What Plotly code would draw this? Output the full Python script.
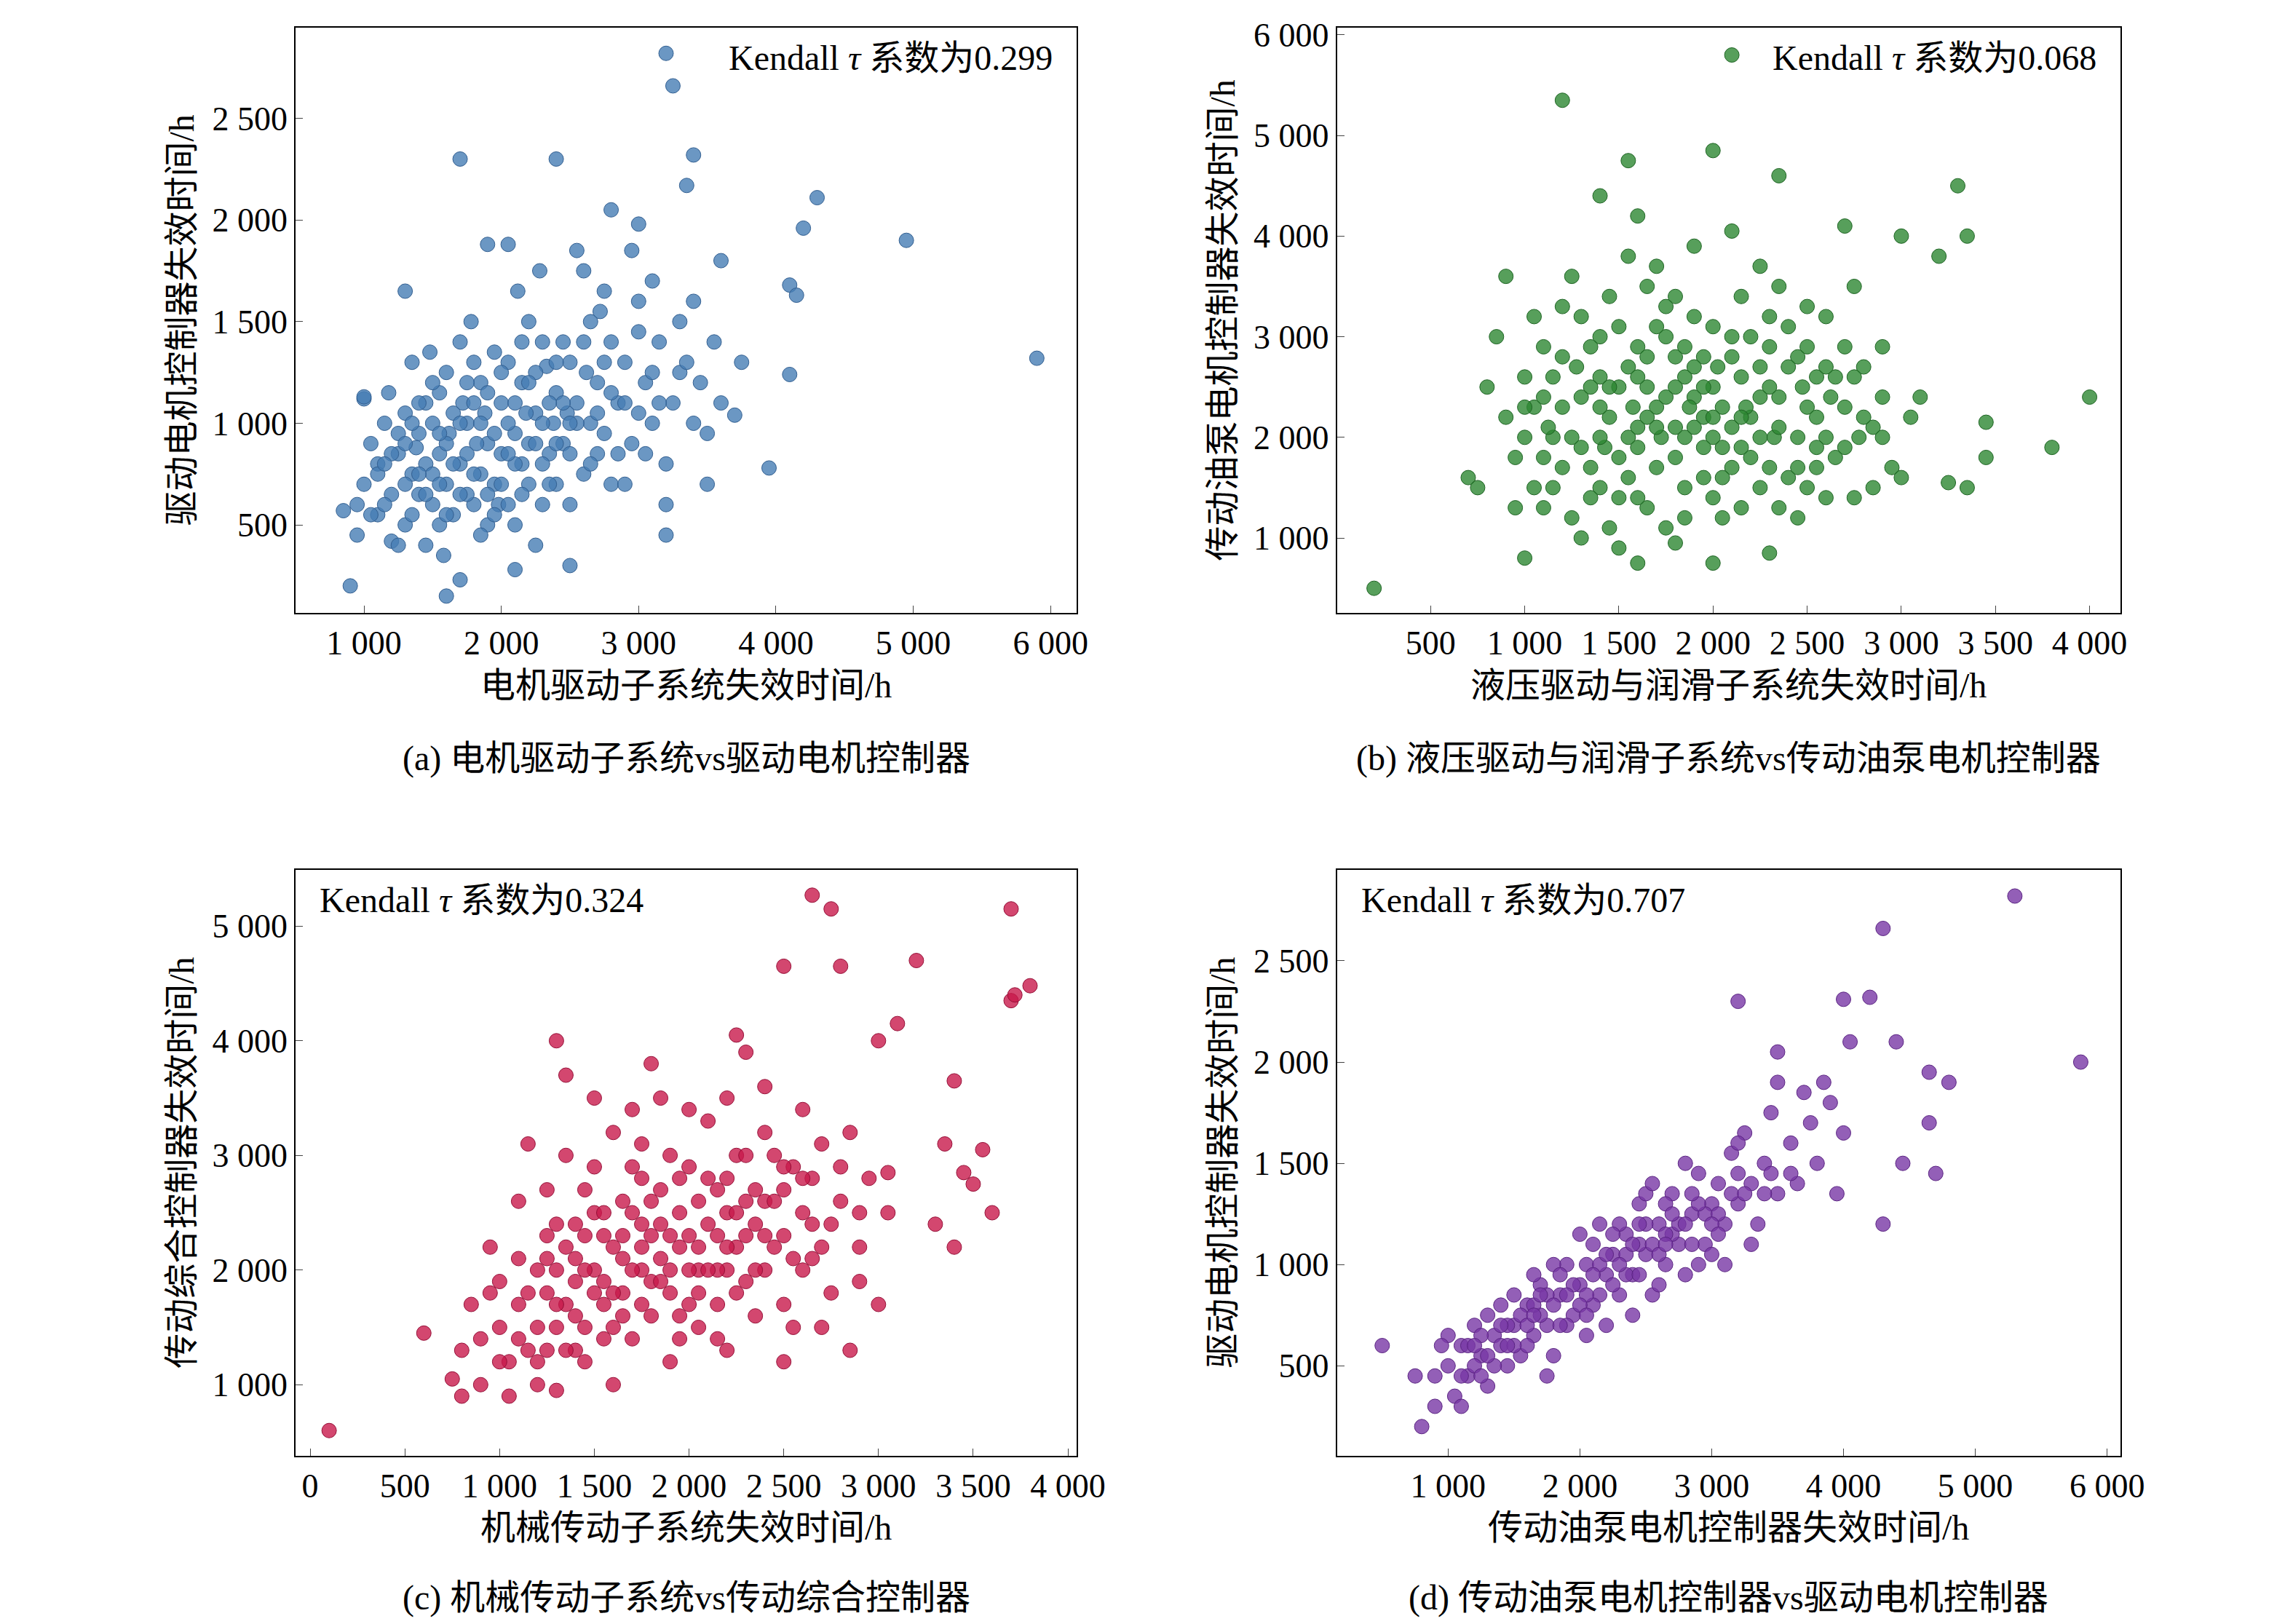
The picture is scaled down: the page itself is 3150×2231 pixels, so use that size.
import plotly.graph_objects as go

a_pts = [(950,450),(1000,700),(1050,900),(1100,550),(1150,1000),(1200,650),(1000,1120),(1100,800),(1200,420),(950,600),(1180,1150),(1250,850),
(1300,500),(1350,750),(1400,950),(1450,1100),(1500,600),(1550,850),(1600,1250),(1350,1300),(1450,400),(1500,1000),(1600,700),(1400,650),(1550,500),(1300,1050),(1480,1350),(1620,950),(1580,350),(1380,880),
(1700,800),(1750,1000),(1800,600),(1850,1200),(1900,900),(1950,700),(2000,1100),(1700,1400),(1800,1300),(1900,500),(2000,850),(1750,650),(1850,450),(1950,1350),(1720,1100),(1880,1050),(1980,600),(1820,900),(1650,550),(1780,1500),(1900,1880),(2050,1880),
(2100,950),(2150,1200),(2200,700),(2250,1050),(2300,1400),(2350,850),(2400,1150),(2100,500),(2200,1500),(2300,600),(2050,1300),(2150,800),(2250,400),(2380,1000),(2120,1650),(2280,1750),(2400,700),(2180,1050),(2330,1280),
(2450,900),(2500,1300),(2550,1100),(2600,750),(2650,1500),(2700,1200),(2750,950),(2800,1400),(2500,600),(2600,1750),(2700,850),(2550,1850),(2750,1650),(2480,1050),(2650,1000),(2800,700),(2620,1250),(2720,1550),
(2850,1100),(2900,1300),(2950,900),(3000,1600),(3050,1200),(3100,1000),(3150,1400),(3200,800),(3300,1250),(2900,700),(3000,1450),(3100,1700),(3250,1100),(3200,600),(3300,1500),(2950,1850),(3050,850),
(3350,1300),(3400,1000),(3450,1200),(3500,950),(3550,1400),(3600,1100),(3400,1600),(3500,700),
(3200,2820),(3250,2660),(1700,2300),(2400,2300),(3400,2320),(3350,2170),(4300,2110),(4200,1960),(4950,1900),(5900,1320),(4100,1680),(4150,1630),(4100,1240),(3950,780),(3750,1300),(3700,1040),(3600,1800),(2800,2050),(3000,1980),(1300,1650),(1000,1130),(850,570),(900,200),(1600,150),(1700,230),(3200,450),(2100,280),(2500,300)]
a_extra = [(1100,750),(1150,600),(1250,950),(1300,700),(1350,550),(1400,1100),(1450,800),(1500,750),(1550,1150),(1600,900),(1650,1050),(1700,650),(1750,850),(1800,1100),(1850,750),(1900,1150),(1950,950),(2000,700),(2050,1000),(2100,800),(2150,1400),(2200,900),(2250,1250),(2300,1000),(2350,700),(2400,1300),(2450,1100),(2500,850),(2550,1000),(2600,1400),(2650,800),(2700,1050),(2750,1300),(2800,1150),(2850,850),(2900,1100),(1200,850),(1300,900),(1400,750),(1500,1200),(1600,550),(1700,1000),(1800,750),(1900,650),(2000,1250),(2100,1100),(2200,1200),(2300,800),(2400,900),(2500,1000),(1250,400),(1350,1000),(1450,650),(1550,950),(1650,800),(1750,1200),(1850,1000),(1950,550),(2050,850),(2150,650),(2250,900),(2350,1100),(1050,550),(1150,800),(1550,700),(2050,600),(2450,1400),(3000,1050),(3150,1100),(3100,1250)]

b_pts = [(900,2200),(950,1800),(1000,2600),(1050,1500),(1100,2900),(1150,2000),(1200,3300),(1250,1200),(1300,2400),(1350,1700),(1400,3000),(1450,2200),(1500,1400),(1550,2700),(1600,1900),(1650,3500),(1700,2300),(1750,1100),(1800,2800),(1850,2000),(1900,3200),(1950,1600),(2000,2500),(2050,1900),(2100,3000),(2150,1300),(2200,2200),(2250,2700),(2300,1700),(2350,2400),(2400,3100),(2450,2000),(2500,1500),(2550,2600),(2600,3200),(2650,1800),(2700,2300),(2750,1400),(2800,2700),(2850,2100),(2900,2900),(2950,1700),(3050,2200),
(1000,2000),(1100,1300),(1200,2300),(1300,1900),(1400,1500),(1500,2500),(1600,2900),(1700,1700),(1800,2100),(1900,2400),(2000,1400),(2100,2100),(2200,1800),(2300,2900),(2400,1600),(2500,2300),(2600,2000),(2700,2900),(1150,2600),(1350,2900),(1450,1100),(1550,2000),(1650,2500),(1750,3000),(1850,1500),(1950,2800),(2050,2300),(2150,3400),(2250,2000),(2350,1300),(2450,2800),(2550,1900),(1250,3600),(1700,3700),(1800,3400),(2100,4050),(2250,3700),(1600,4200),(1900,3900),(1050,3200),(1300,1000),(1500,900),(1800,950),(2450,1200),(2650,2600),(2850,1500),(1400,2600),(1600,2100),(2000,2000),(1750,2400),(1950,2200),(1850,2600),(1650,1300),(2500,3300),(2750,3500),(2900,2400),(950,1300),(1100,1800),(2150,2600),(2350,3500),(1450,3400),(1550,3800),(2050,1200),(2600,1400),
(200,500),(1200,5350),(2100,5800),(1550,4750),(2000,4850),(2350,4600),(3300,4500),(3350,4000),(3000,4000),(3450,2150),(3450,1800),(3800,1900),(4000,2400),(3250,1550),(3350,1500),(700,1600),(750,1500),(800,2500),(900,3600),(1000,800),(1600,750),(2000,750),(2300,850),(3000,1600),(3100,2400),(3200,3800),(2700,4100),(1400,4400),(850,3000)]
b_extra = [(1050,2300),(1200,1700),(1350,2500),(1500,1800),(1650,2800),(1800,1800),(1950,2500),(2100,1700),(2250,2400),(2400,2700),(2550,2200),(2700,1900),(1125,2100),(1275,2700),(1425,1900),(1575,2300),(1725,2000),(1875,2300),(2025,2700),(2175,2300),(2325,2000),(2475,2500),(2625,2400),(2775,2000),(1100,2400),(1250,2000),(1400,2300),(1550,1600),(1700,2100),(1850,2900),(2000,2200),(2150,1900),(2300,2500),(2450,1700),(2600,2700),(2750,2600),(1300,3200),(1500,3100),(1700,3100),(1900,2700),(2100,2800),(2300,3200),(2500,2900),(1350,1400),(1600,1400),(1850,1200),(2050,1600),(2250,1500),(1200,2800),(1450,2500),(1650,2200),(1800,2500),(1950,1900),(2150,2200),(2350,2100),(2550,1700),(1000,2300),(1150,1500),(2800,2200),(2900,2000),(1750,3300),(2000,3100),(1600,2600),(1900,2100),(2200,3000),(1400,2000)]

c_pts = [(800,1300),(850,1700),(900,1000),(950,2200),(1000,1500),(1050,1200),(1100,2600),(1150,1800),(1200,1000),(1250,2300),(1300,1500),(1350,3000),(1400,1900),(1450,1200),(1500,2500),(1550,1700),(1600,3200),(1650,2100),(1700,1400),(1750,2800),(1800,1900),(1850,3500),(1900,2300),(1950,1600),(2000,2900),(2050,2000),(2100,3300),(2150,1400),(2200,2500),(2250,3000),(2300,1900),(2350,2700),(2400,3600),(2450,2200),(2500,1700),(2550,2900),(2600,3400),(2650,2400),(2700,3100),(2750,1800),(2800,2600),(2850,3200),(2900,2200),(2950,2800),(3000,1700),
(1000,1900),(1100,1400),(1200,2000),(1300,2400),(1400,1600),(1500,2000),(1600,1500),(1700,2500),(1800,2300),(1900,2000),(2000,1700),(2100,2400),(2200,2000),(2300,2300),(2400,2600),(2500,2300),(2600,2000),(1250,1800),(1350,2200),(1450,2700),(1550,2300),(1650,1800),(1750,2200),(1850,2700),(1950,2500),(2050,1500),(2150,2700),(2250,2200),(2350,1600),(2450,3000),(1150,3100),(1350,3700),(1500,3500),(1700,3400),(1800,3800),(2000,3400),(2200,3500),(2300,3900),(2400,3200),(900,1400),(1050,900),(1300,950),(1600,1000),(1900,1200),(2200,1300),(2500,1200),(2700,1500),(2900,1900),(1750,2000),(1850,2100),(1650,2300),(1550,1900),(1450,1500),(2050,2200),(2150,2000),(1250,1300),(2650,2800),(2750,2400),(2550,1500),(3050,2500),(2850,1300),(1400,2100),(1950,2200),
(100,600),(600,1450),(2650,5270),(2750,5150),(3700,5150),(2500,4650),(2800,4650),(3200,4700),(3800,4480),(3700,4350),(3720,4400),(3100,4150),(3000,4000),(3400,3650),(3350,3100),(3550,3050),(3600,2500),(3450,2850),(3400,2200),(3300,2400),(2250,4050),(1300,4000),(750,1050),(800,900),(3500,2750),(3050,2850)]
c_extra = [(1100,1700),(1200,1500),(1300,2000),(1400,2400),(1500,1800),(1600,2200),(1700,2000),(1800,2600),(1900,1800),(2000,2300),(2100,2000),(2200,2800),(2300,2600),(2400,2000),(2500,2700),(2600,2500),(2700,2200),(1150,1300),(1250,2100),(1350,1700),(1450,2000),(1550,2500),(1650,1600),(1750,2400),(1850,1900),(1950,2800),(2050,2600),(2150,2300),(2250,1800),(2350,2400),(2450,2600),(2550,2100),(1000,1200),(1200,1200),(1400,1300),(1600,1800),(1800,1600),(2000,2000),(2200,2200),(2400,2300),(1500,2900),(1700,2900),(1900,3000),(2100,2800),(2300,3000),(2500,2900),(1300,1700),(1450,2300),(1650,2600),(1850,2400),(2050,1800),(2250,2500),(2650,2100),(2800,2900),(2900,2500),(1350,1300),(1550,1400),(1750,1700),(1950,1400),(2150,1700),(950,1800),(1100,2100),(1250,2700),(1750,3100),(2350,2000),(2600,2800)]

d_pts = [(1000,500),(1050,350),(1100,600),(1150,450),(1200,700),(1250,550),(1300,400),(1350,650),(1400,800),(1450,500),(1500,700),(1000,650),(1100,300),(1200,500),(1300,750),(1400,600),(1500,850),(900,450),(950,600),
(1550,550),(1600,800),(1650,650),(1700,900),(1750,700),(1800,550),(1850,850),(1900,1000),(1950,750),(2000,900),(2050,650),(2100,1100),(2150,850),(2200,950),(1600,600),(1700,750),(1800,1000),(1900,700),(2000,1150),(2100,800),(2200,700),(1750,450),(2050,1000),(1650,950),(2150,1200),
(2250,1050),(2300,850),(2350,1150),(2400,950),(2450,1300),(2500,1050),(2550,850),(2600,1200),(2650,1000),(2700,1350),(2750,1100),(2800,950),(2850,1250),(2900,1450),(2950,1100),(3000,1300),(2300,1200),(2400,750),(2500,1350),(2600,900),(2700,1150),(2800,1500),(2900,1000),(2450,1100),(2650,1300),(3000,1050),(2350,950),(2550,1400),
(3050,1400),(3100,1200),(3150,1550),(3200,1300),(3250,1650),(3300,1400),(3350,1200),(3400,1500),(3450,1750),(3500,1350),(3600,1600),(3700,1850),(3800,1500),(3900,1800),(4000,1650),(3100,1000),(3300,1100),(3500,1900),(3650,1400),(3750,1700),(3850,1900),(3950,1350),(3200,1600),(3400,1350),
(500,600),(800,200),(750,450),(5300,2820),(4300,2660),(5800,2000),(4800,1900),(4650,1950),(4400,2100),(3200,2300),(4000,2310),(4200,2320),(4050,2100),(3500,2050),(4300,1200),(4700,1450),(4650,1700),(4450,1500),(900,300)]
d_extra = [(1150,600),(1250,650),(1350,500),(1450,700),(1550,750),(1650,800),(1750,850),(1850,700),(1950,900),(2050,850),(2150,1000),(2250,900),(2350,1050),(2450,950),(2550,1100),(2650,1150),(2750,1200),(2850,1100),(2950,1250),(3050,1250),(3150,1350),(1200,600),(1400,700),(1600,700),(1800,800),(2000,800),(2200,1050),(2400,1100),(2600,1050),(2800,1200),(3000,1200),(3200,1450),(1300,550),(1500,600),(1700,850),(1900,850),(2100,950),(2300,1000),(2500,1200),(2700,1250),(2900,1300),(1100,450),(1250,450),(1450,600),(1650,750),(1850,950),(2050,750),(2250,1150),(2450,1200),(2650,1100),(2850,1350),(3050,1150),(3250,1350),(3450,1450),(3600,1450)]

panels = [
    dict(pts=a_pts + a_extra, color="rgba(70,125,180,0.8)", line="rgb(50,95,145)", tau="0.299",
         xr=[502,6190], yr=[66,2948], xt=[1000,2000,3000,4000,5000,6000], yt=[500,1000,1500,2000,2500],
         xlab="电机驱动子系统失效时间/h", ylab="驱动电机控制器失效时间/h",
         cap="(a) 电机驱动子系统vs驱动电机控制器", right=True),
    dict(pts=b_pts + b_extra, color="rgba(45,135,50,0.8)", line="rgb(30,100,35)", tau="0.068",
         xr=[3,4163], yr=[253,6075], xt=[500,1000,1500,2000,2500,3000,3500,4000], yt=[1000,2000,3000,4000,5000,6000],
         xlab="液压驱动与润滑子系统失效时间/h", ylab="传动油泵电机控制器失效时间/h",
         cap="(b) 液压驱动与润滑子系统vs传动油泵电机控制器", right=True),
    dict(pts=c_pts + c_extra, color="rgba(200,25,75,0.8)", line="rgb(150,15,55)", tau="0.324",
         xr=[-77,4046], yr=[382,5492], xt=[0,500,1000,1500,2000,2500,3000,3500,4000], yt=[1000,2000,3000,4000,5000],
         xlab="机械传动子系统失效时间/h", ylab="传动综合控制器失效时间/h",
         cap="(c) 机械传动子系统vs传动综合控制器", right=False),
    dict(pts=d_pts + d_extra, color="rgba(120,55,165,0.8)", line="rgb(90,35,130)", tau="0.707",
         xr=[157,6100], yr=[57,2950], xt=[1000,2000,3000,4000,5000,6000], yt=[500,1000,1500,2000,2500],
         xlab="传动油泵电机控制器失效时间/h", ylab="驱动电机控制器失效时间/h",
         cap="(d) 传动油泵电机控制器vs驱动电机控制器", right=False),
]
xdoms = [[0.128,0.473],[0.588,0.934],[0.128,0.473],[0.588,0.934]]
ydoms = [[0.630,0.993],[0.630,0.993],[0.108,0.471],[0.108,0.471]]
caps_y = [0.54,0.54,0.02,0.02]

def fmt(v):
    return f"{v:,}".replace(",", " ")

FONT = "Liberation Serif, Noto Sans CJK SC"
fig = go.Figure()
ann = []
for i, p in enumerate(panels):
    n = "" if i == 0 else str(i+1)
    fig.add_trace(go.Scatter(x=[q[0] for q in p["pts"]], y=[q[1] for q in p["pts"]], mode="markers",
        marker=dict(size=20, color=p["color"], line=dict(width=1, color=p["line"])),
        xaxis="x"+n, yaxis="y"+n, showlegend=False))
    common = dict(ticks="inside", ticklen=10, mirror=True, showline=True, linecolor="black", linewidth=2,
                  showgrid=False, zeroline=False, tickfont=dict(size=46, family=FONT, color="black"))
    ax = dict(domain=xdoms[i], range=p["xr"], tickvals=p["xt"], ticktext=[fmt(v) for v in p["xt"]],
              title=dict(text=p["xlab"], font=dict(size=48, family=FONT, color="black"), standoff=16),
              anchor="y"+n, **common)
    ay = dict(domain=ydoms[i], range=p["yr"], tickvals=p["yt"], ticktext=[fmt(v) for v in p["yt"]],
              title=dict(text=p["ylab"], font=dict(size=48, family=FONT, color="black"), standoff=10),
              anchor="x"+n, **common)
    fig.update_layout(**{"xaxis"+n: ax, "yaxis"+n: ay})
    xd = xdoms[i]
    ann.append(dict(text=f"Kendall <i>τ</i> 系数为{p['tau']}", xref="paper", yref="paper",
        x=xd[1]-0.01 if p["right"] else xd[0]+0.01, y=ydoms[i][1]-0.006,
        xanchor="right" if p["right"] else "left", yanchor="top", showarrow=False,
        font=dict(size=48, family=FONT, color="black")))
    ann.append(dict(text=p["cap"], xref="paper", yref="paper", x=(xd[0]+xd[1])/2, y=caps_y[i],
        xanchor="center", yanchor="middle", showarrow=False, font=dict(size=48, family=FONT, color="black")))

fig.update_layout(width=3150, height=2231, margin=dict(l=0, r=0, t=0, b=0),
                  plot_bgcolor="white", paper_bgcolor="white", annotations=ann)
fig.write_html("out.html")
